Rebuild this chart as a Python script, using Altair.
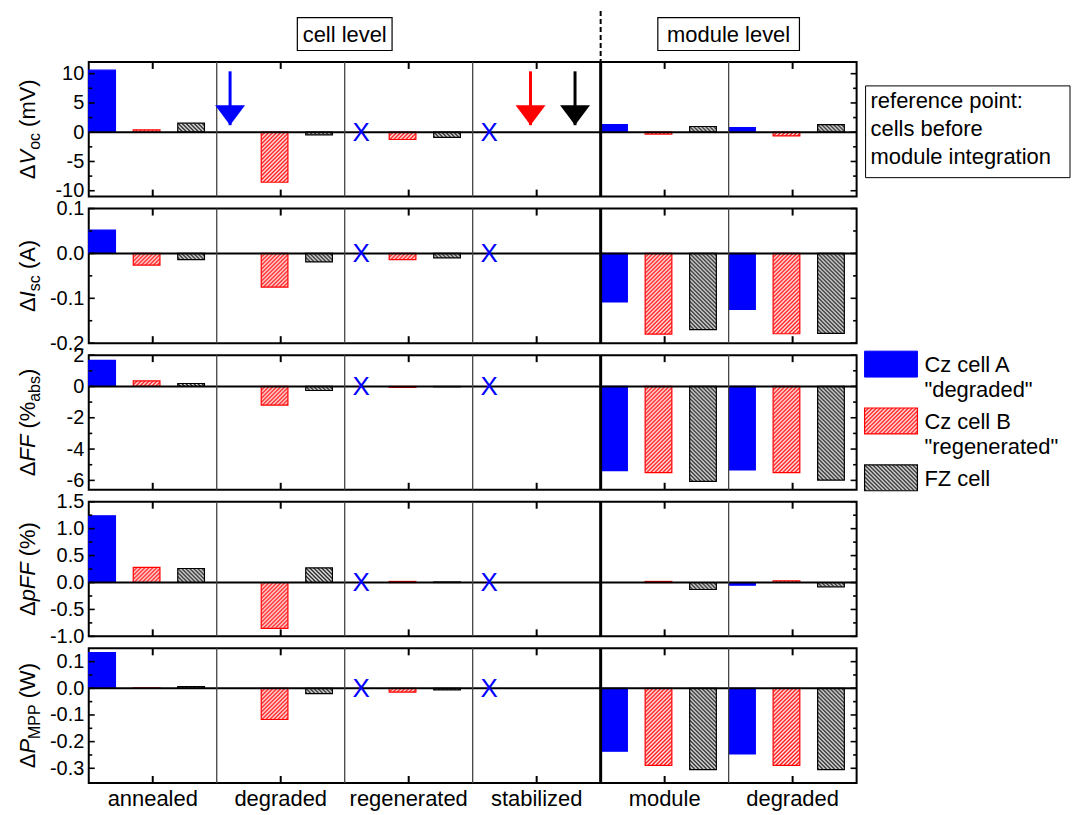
import altair as alt
import pandas as pd
import base64

# ---------------- data ----------------
cats = ["annealed", "degraded", "regenerated", "stabilized", "module", "degraded_m"]
cat_labels = ["annealed", "degraded", "regenerated", "stabilized", "module", "degraded"]
series = ["A", "B", "FZ"]

voc_A = [10.6, None, None, None, 1.3, 0.8]
voc_B = [0.4, -8.55, -1.25, None, -0.34, -0.63]
voc_FZ = [1.55, -0.45, -0.9, None, 0.97, 1.3]

isc_A = [0.052, None, None, None, -0.108, -0.125]
isc_B = [-0.026, -0.075, -0.014, None, -0.180, -0.179]
isc_FZ = [-0.014, -0.019, -0.010, None, -0.170, -0.178]

ff_A = [1.67, None, None, None, -5.38, -5.33]
ff_B = [0.36, -1.19, -0.06, None, -5.50, -5.50]
ff_FZ = [0.19, -0.26, -0.02, None, -6.06, -5.99]

pff_A = [1.24, None, None, None, 0.0, -0.05]
pff_B = [0.28, -0.85, 0.02, None, 0.02, 0.03]
pff_FZ = [0.26, 0.27, 0.01, None, -0.13, -0.08]

p_A = [0.134, None, None, None, -0.236, -0.246]
p_B = [0.002, -0.117, -0.014, None, -0.289, -0.289]
p_FZ = [0.006, -0.02, -0.006, None, -0.305, -0.305]

x_marker_cats = ["regenerated", "stabilized"]
arrow_cats = ["degraded", "stabilized", "stabilized"]
arrow_series = ["A", "B", "FZ"]
arrow_top = [10.4, 10.4, 10.4]
arrow_tip = [1.2, 1.2, 1.2]

# ---------------- style ----------------
FONT = "Liberation Sans"
W, H = 770, 135
colors = ["#0000ff", "#ff0000", "#000000"]
fills = ["#0000ff", "#ffffff", "#ffffff"]


def hatch_url(d, color, sw):
    svg = ('<svg xmlns="http://www.w3.org/2000/svg" width="100%" height="100%">'
           '<defs><pattern id="h" width="4" height="4" patternUnits="userSpaceOnUse">'
           f'<path d="{d}" stroke="{color}" stroke-width="{sw}" fill="none"/></pattern></defs>'
           '<rect width="100%" height="100%" fill="url(#h)"/></svg>')
    return "data:image/svg+xml;base64," + base64.b64encode(svg.encode()).decode()


HATCH = {
    "B": hatch_url("M-1,1 L1,-1 M0,4 L4,0 M3,5 L5,3", "#ff0000", 1.4),
    "FZ": hatch_url("M-1,3 L1,5 M0,0 L4,4 M3,-1 L5,1", "#000000", 1.3),
}

xscale = alt.Scale(domain=cats, paddingInner=0, paddingOuter=0)
oscale = alt.Scale(domain=series, paddingInner=0.4, paddingOuter=0.138, align=0)
cscale = alt.Scale(domain=series, range=colors)
fscale = alt.Scale(domain=series, range=fills)

lab_expr = ("[" + ",".join(f"'{l}'" for l in cat_labels) + "][indexof(["
            + ",".join(f"'{c}'" for c in cats) + "], datum.value)]")

ONE = pd.DataFrame({"k": [1]})

CW = {"Δ": 0.668, "V": 0.667, "I": 0.278, "F": 0.611, "P": 0.667, "M": 0.833, "A": 0.667,
      "W": 0.944, "p": 0.556, "o": 0.556, "c": 0.5, "s": 0.5, "a": 0.556, "b": 0.556,
      "m": 0.833, " ": 0.278, "(": 0.333, ")": 0.333, "%": 0.889}


def ytitle_layers(pieces):
    sizes = {"n": 22, "i": 22, "s": 16}
    widths = [sum(CW[ch] for ch in t) * sizes[st] for t, st in pieces]
    pos = -sum(widths) / 2
    out = []
    for (t, st), w in zip(pieces, widths):
        lead = len(t) - len(t.lstrip(" "))
        p0 = pos + lead * CW[" "] * sizes[st]
        out.append(alt.Chart(ONE).mark_text(
            text=t.strip(" "), angle=270, align="left", baseline="alphabetic", fontSize=sizes[st],
            fontStyle="italic" if st == "i" else "normal", dx=p0, dy=5 if st == "s" else 0,
            font=FONT, color="black").encode(x=alt.value(-54), y=alt.value(H / 2)))
        pos += w
    return out


def fmt_expr(f):
    return f"datum.value < -1e-9 ? '-' + format(-datum.value, '{f}') : format(abs(datum.value), '{f}')"


def panel(A, B, FZ, domain, major, minor, f, title, bottom=False, extras=()):
    rows = []
    for s, vals in zip(series, [A, B, FZ]):
        for c, v in zip(cats, vals):
            if v is not None:
                rows.append({"cat": c, "series": s, "value": v, "url": HATCH.get(s, "")})
    df = pd.DataFrame(rows)
    yscale = alt.Scale(domain=domain, nice=False, zero=False)
    xaxis = (alt.Axis(labelExpr=lab_expr, ticks=False, domain=False, grid=False, labelFontSize=22,
                      labelPadding=6, labelColor="black", labelFont=FONT, labelAngle=0)
             if bottom else None)
    yaxis = alt.Axis(values=major, labelExpr=fmt_expr(f), ticks=False, domain=False, grid=False,
                     labelFontSize=20, labelPadding=5, labelColor="black", labelFont=FONT,
                     labelFlush=False, labelOverlap=False)

    def X(**kw):
        return alt.X("cat:N", scale=xscale, title=None, axis=xaxis, **kw)

    def Y(field):
        return alt.Y(field, scale=yscale, axis=yaxis, title=None)

    off = alt.XOffset("series:N", scale=oscale)

    bars = alt.Chart(df).mark_bar(strokeWidth=1.2).encode(
        x=X(), xOffset=off, y=Y("value:Q"), y2=alt.datum(0),
        fill=alt.Fill("series:N", scale=fscale, legend=None),
        stroke=alt.Stroke("series:N", scale=cscale, legend=None))
    hatch = alt.Chart(df[df.series != "A"]).mark_image(aspect=False).encode(
        x=X(), xOffset=off, y=Y("value:Q"), y2=alt.datum(0), url=alt.Url("url:N"))
    zero = alt.Chart(pd.DataFrame({"value": [0]})).mark_rule(color="black", strokeWidth=2).encode(
        y=Y("value:Q"))
    thin = alt.Chart(pd.DataFrame({"cat": ["degraded", "regenerated", "stabilized", "degraded_m"]})
                     ).mark_rule(color="#444444", strokeWidth=1.3).encode(x=X(bandPosition=0))
    thick = alt.Chart(pd.DataFrame({"cat": ["module"]})).mark_rule(
        color="black", strokeWidth=3).encode(x=X(bandPosition=0))
    xt_df = pd.DataFrame({"cat": cats})
    xt_top = alt.Chart(xt_df).mark_rule(color="black", strokeWidth=2).encode(
        x=X(bandPosition=0.5), y=alt.value(0), y2=alt.value(7))
    xt_bot = alt.Chart(xt_df).mark_rule(color="black", strokeWidth=2).encode(
        x=X(bandPosition=0.5), y=alt.value(H), y2=alt.value(H - 7))
    ylayers = []
    for vals, L in [(major, 6), (minor, 3.5)]:
        tdf = pd.DataFrame({"value": vals})
        for x0, x1 in [(0, L), (W, W - L)]:
            ylayers.append(alt.Chart(tdf).mark_rule(color="black", strokeWidth=1.6).encode(
                y=Y("value:Q"), x=alt.value(x0), x2=alt.value(x1)))
    xm = alt.Chart(pd.DataFrame({"cat": x_marker_cats, "series": ["A"] * len(x_marker_cats),
                                 "value": [0] * len(x_marker_cats)})).mark_text(
        text="X", fontSize=26, font=FONT, color="#0000ff", baseline="middle", dx=3, dy=1).encode(
        x=X(), xOffset=off, y=Y("value:Q"))
    layers = [bars, hatch, zero, thin, thick, xt_top, xt_bot] + ylayers + [xm] \
        + ytitle_layers(title) + [e(X, Y, off) for e in extras]
    return alt.layer(*layers).properties(width=W, height=H)


# ------------- extras for the top panel -------------
def arrows_layer(X, Y, off):
    adf = pd.DataFrame({"cat": arrow_cats, "series": arrow_series, "value": arrow_top, "tip": arrow_tip})
    shaft = alt.Chart(adf).mark_rule(strokeWidth=3).encode(
        x=X(), xOffset=off, y=Y("value:Q"), y2="tip:Q",
        color=alt.Color("series:N", scale=cscale, legend=None))
    head = alt.Chart(adf).mark_point(
        shape="M-1,-1.333L1,-1.333L0,0Z", size=900, filled=True, opacity=1, strokeWidth=0).encode(
        x=X(), xOffset=off, y=Y("tip:Q"),
        color=alt.Color("series:N", scale=cscale, legend=None))
    return alt.layer(shaft, head)


def headers_layer(X, Y, off):
    out = []
    for cat, txt, w in [("regenerated", "cell level", 95), ("degraded_m", "module level", 142)]:
        d = pd.DataFrame({"cat": [cat]})
        hy = 16.5 / (w / 2)
        out.append(alt.Chart(d).mark_point(
            shape=f"M-1,-{hy:.4f}L1,-{hy:.4f}L1,{hy:.4f}L-1,{hy:.4f}Z", size=w * w, filled=False,
            color="black", strokeWidth=1.2, opacity=1).encode(
            x=X(bandPosition=0), y=alt.value(-28)))
        out.append(alt.Chart(d).mark_text(
            text=txt, fontSize=22, font=FONT, color="black", baseline="middle", dy=1).encode(
            x=X(bandPosition=0), y=alt.value(-28)))
    dash = alt.Chart(pd.DataFrame({"cat": ["module"]})).mark_rule(
        strokeDash=[5, 3], strokeWidth=2, color="black").encode(
        x=X(bandPosition=0), y=alt.value(-51), y2=alt.value(0))
    out.append(dash)
    return alt.layer(*out)


ref_lines = ["reference point:", "cells before", "module integration"]


def refbox_layer(X, Y, off):
    box = alt.Chart(ONE).mark_rect(fillOpacity=0, stroke="black", strokeWidth=1).encode(
        x=alt.value(779), x2=alt.value(984), y=alt.value(24), y2=alt.value(116))
    txt = alt.Chart(ONE).mark_text(
        text=ref_lines, fontSize=22, font=FONT, color="black", align="left", baseline="alphabetic",
        lineHeight=28).encode(x=alt.value(784), y=alt.value(46))
    return alt.layer(box, txt)


legend_lines = [["Cz cell A", "\"degraded\""], ["Cz cell B", "\"regenerated\""], ["FZ cell"]]


def legend_layer(X, Y, off):
    out = []
    tops = [-4, 53, 110]
    for s, top, col, lines in zip(series, tops, colors, legend_lines):
        if s == "A":
            out.append(alt.Chart(ONE).mark_rect(fill=col, stroke=col, strokeWidth=1).encode(
                x=alt.value(778), x2=alt.value(831), y=alt.value(top), y2=alt.value(top + 26)))
        else:
            out.append(alt.Chart(ONE).mark_image(aspect=False).encode(
                x=alt.value(778), x2=alt.value(831), y=alt.value(top), y2=alt.value(top + 26),
                url=alt.value(HATCH[s])))
            out.append(alt.Chart(ONE).mark_rect(fillOpacity=0, stroke=col, strokeWidth=1.2).encode(
                x=alt.value(778), x2=alt.value(831), y=alt.value(top), y2=alt.value(top + 26)))
        out.append(alt.Chart(ONE).mark_text(
            text=lines, fontSize=22, font=FONT, color="black", align="left", baseline="alphabetic",
            lineHeight=25).encode(x=alt.value(838), y=alt.value(top + 21)))
    return alt.layer(*out)


p1 = panel(voc_A, voc_B, voc_FZ, [-11, 12], [-10, -5, 0, 5, 10], [-7.5, -2.5, 2.5, 7.5], "d",
           [("Δ", "n"), ("V", "i"), ("oc", "s"), (" (mV)", "n")],
           extras=(arrows_layer, headers_layer, refbox_layer))
p2 = panel(isc_A, isc_B, isc_FZ, [-0.2, 0.1], [-0.2, -0.1, 0, 0.1], [-0.15, -0.05, 0.05], ".1f",
           [("Δ", "n"), ("I", "i"), ("sc", "s"), (" (A)", "n")])
p3 = panel(ff_A, ff_B, ff_FZ, [-6.6, 2], [-6, -4, -2, 0, 2], [-5, -3, -1, 1], "d",
           [("Δ", "n"), ("FF", "i"), (" (%", "n"), ("abs", "s"), (")", "n")],
           extras=(legend_layer,))
p4 = panel(pff_A, pff_B, pff_FZ, [-1, 1.5], [-1, -0.5, 0, 0.5, 1, 1.5], [-0.75, -0.25, 0.25, 0.75, 1.25],
           ".1f", [("Δ", "n"), ("pFF", "i"), (" (%)", "n")])
p5 = panel(p_A, p_B, p_FZ, [-0.355, 0.15], [-0.3, -0.2, -0.1, 0, 0.1], [-0.25, -0.15, -0.05, 0.05],
           ".1f", [("Δ", "n"), ("P", "i"), ("MPP", "s"), (" (W)", "n")], bottom=True)

chart = alt.vconcat(p1, p2, p3, p4, p5, spacing=12, bounds="flush").properties(
    padding={"left": 16, "top": 8, "right": 2, "bottom": 2}
).configure(font=FONT).configure_view(stroke="black", strokeWidth=2)

chart.save("out.html", embed_options={"renderer": "svg", "actions": False})
